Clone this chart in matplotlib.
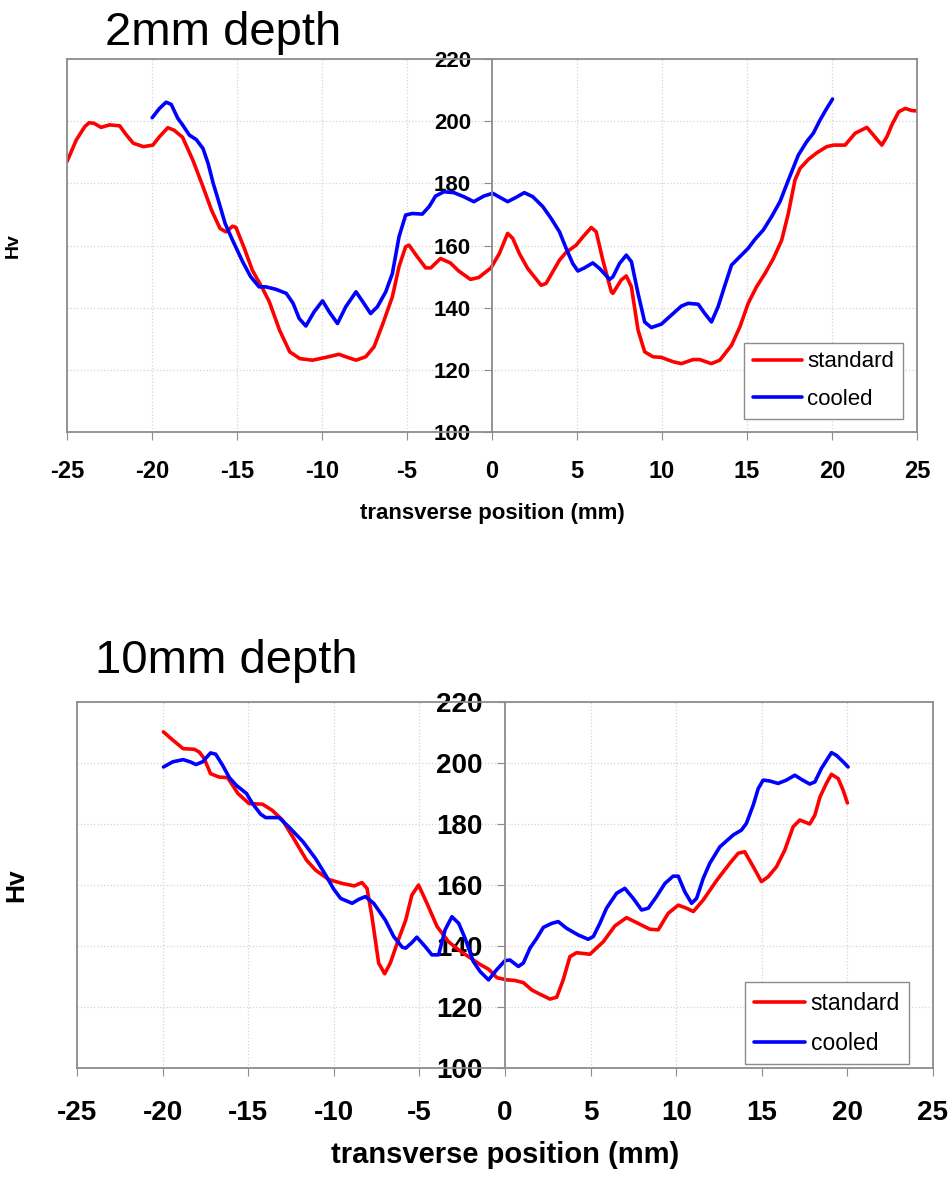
import matplotlib
matplotlib.use("Agg")
import matplotlib.pyplot as plt

plt.rcParams['font.family'] = ['Liberation Sans', 'DejaVu Sans']
plt.rcParams['axes.unicode_minus'] = False

# 2 mm depth profiles
pos_2mm_std = [-25, -24.45, -23.96, -23.7, -23.4, -23.0, -22.5, -21.9, -21.5, -21.1, -20.5,
               -19.95, -19.56, -19.07, -18.7, -18.2, -17.6, -17.0, -16.5, -16.0, -15.65,
               -15.26, -15.06, -14.57, -14.1, -13.5, -13.1, -12.5, -11.9, -11.3, -10.56,
               -9.78, -9.0, -8.6, -8.0, -7.43, -6.94, -6.45, -5.86, -5.47, -5.08, -4.88,
               -4.4, -3.9, -3.6, -3.03, -2.45, -1.96, -1.27, -0.78, -0.06, 0.43, 0.92,
               1.22, 1.61, 2.1, 2.89, 3.18, 3.97, 4.36, 4.95, 5.35, 5.84, 6.13, 6.52,
               7.02, 7.11, 7.6, 7.9, 8.2, 8.59, 8.98, 9.47, 9.96, 10.65, 11.14, 11.83,
               12.22, 12.9, 13.4, 14.09, 14.58, 15.07, 15.56, 16.06, 16.55, 17.04, 17.43,
               17.82, 18.12, 18.61, 19.1, 19.69, 20.1, 20.77, 21.36, 22.05, 22.44, 22.93,
               23.23, 23.52, 23.92, 24.31, 24.7, 25.0]
hv_2mm_std = [187, 194, 198.2, 199.5, 199.3, 198, 198.8, 198.5, 195.5, 192.9, 191.8,
              192.3, 195, 197.9, 197.1, 194.8, 187.5, 178.9, 171.4, 165.5, 164.4,
              166.2, 165.8, 159.1, 152.1, 146.2, 141.9, 132.8, 125.8, 123.6, 123.1,
              124, 125, 124.2, 123.1, 124.2, 127.4, 134.4, 143.5, 153.2, 159.6, 160.1,
              156.4, 152.8, 152.8, 155.8, 154.4, 151.8, 149.1, 149.7, 152.8, 157.4, 163.9,
              162.3, 157.4, 152.6, 147.2, 147.8, 155.3, 157.8, 160.1, 162.8, 165.8, 164.4, 155.3,
              145.1, 144.6, 148.9, 150.2, 146.7, 132.8, 125.8, 124.2, 124, 122.6, 122.0, 123.3,
              123.3, 122.0, 123.1, 127.9, 133.8, 141.4, 146.7, 151.0, 155.8, 161.7, 170.3,
              181.0, 184.8, 187.7, 189.8, 191.8, 192.3, 192.3, 196.1, 198, 195.5, 192.3,
              195, 198.8, 203, 204.1, 203.4, 203.3]

pos_2mm_cool = [-19.99, -19.56, -19.17, -18.87, -18.48, -18.2, -17.8, -17.4, -17.0, -16.7,
                -16.4, -16.1, -15.7, -15.26, -14.67, -14.2, -13.7, -13.3, -12.71, -12.1,
                -11.7, -11.34, -10.95, -10.46, -9.97, -9.58, -9.09, -8.6, -8.0, -7.6, -7.14,
                -6.74, -6.25, -5.86, -5.47, -5.08, -4.69, -4.1, -3.7, -3.32, -2.83, -2.24,
                -1.66, -1.07, -0.48, 0.04, 0.92, 1.42, 1.9, 2.4, 2.99, 3.48, 3.97, 4.36,
                4.75, 5.05, 5.44, 5.93, 6.33, 6.92, 7.11, 7.5, 7.9, 8.2, 8.59, 8.98, 9.37,
                9.96, 10.55, 11.14, 11.54, 12.13, 12.52, 12.91, 13.3, 13.7, 14.09, 14.58,
                15.07, 15.47, 15.96, 16.45, 16.94, 17.43, 18.02, 18.51, 18.9, 19.3, 19.69,
                20.03]
hv_2mm_cool = [201.1, 204.1, 206.1, 205.4, 200.9, 198.8, 195.5, 194.1, 191.2, 186.4,
               180.0, 174.6, 167.1, 161.7, 154.8, 150, 146.7, 146.7, 145.9, 144.6,
               141.4, 136.5, 134.1, 138.7, 142.2, 138.7, 134.9, 140.3, 145.1, 141.9, 138.1,
               140.3, 145.1, 151, 162.8, 169.8, 170.3, 170.1, 172.5, 175.9, 177.3, 177,
               175.7, 174.1, 175.9, 176.8, 174.1, 175.5, 177, 175.7, 172.5, 168.7, 164.4, 159.1,
               154.2, 151.8, 152.8, 154.4, 152.6, 149.1, 149.9, 154.2, 156.9, 154.8, 144.6, 135.4, 133.6,
               134.7, 137.6, 140.5, 141.4, 141.1, 138.1, 135.4, 140.3, 147.2, 153.7, 156.4,
               159.1, 162, 165, 169.3, 174.1, 181.0, 189.1, 193.4, 196.1, 200.4, 204.1,
               207.1]

# 10 mm depth profiles
pos_10mm_std = [-19.95, -19.4, -18.8, -18.15, -17.86, -17.57, -17.2, -16.7, -16.2, -15.6,
                -14.95, -14.17, -13.6, -13.0, -12.4, -11.6, -11.07, -10.3, -9.5, -8.8,
                -8.36, -8.06, -7.77, -7.38, -7.03, -6.7, -6.3, -5.8, -5.44, -5.05, -4.56,
                -3.97, -3.3, -2.7, -2.13, -1.5, -0.96, -0.47, 0.1, 0.58, 1.07, 1.56, 2.04,
                2.63, 3.02, 3.4, 3.79, 4.18, 4.96, 5.74, 6.42, 7.1, 7.78, 8.46, 8.95, 9.53,
                10.12, 10.6, 11.0, 11.58, 12.35, 13.13, 13.62, 14.0, 14.5, 14.98, 15.37,
                15.86, 16.34, 16.83, 17.22, 17.8, 18.1, 18.4, 18.77, 19.07, 19.46, 19.75,
                20.0]
hv_10mm_std = [210.2, 207.5, 204.7, 204.5, 203.6, 201.5, 196.5, 195.4, 195.2, 190,
               186.7, 186.5, 184.5, 181.3, 175.8, 168.2, 164.9, 161.8, 160.5, 159.7,
               160.8, 158.9, 149.6, 134.4, 130.9, 134.4, 140.9, 148.5, 156.7, 160, 154,
               146.4, 141.4, 138.7, 136.5, 134.1, 132.4, 129.6, 128.9, 128.7, 128.0, 125.6, 124.2,
               122.6, 123.2, 128.9, 136.5, 137.8, 137.3, 141.4, 146.6, 149.3, 147.4, 145.5, 145.3, 150.7,
               153.4, 152.4, 151.3, 155.1, 161.4, 167.1, 170.4, 170.9, 166.0, 161.1, 162.7,
               166, 171.4, 179.1, 181.3, 180, 182.9, 188.9, 193.3, 196.3, 194.9, 191.1,
               186.9]

pos_10mm_cool = [-19.95, -19.4, -18.8, -18.4, -18.05, -17.66, -17.2, -16.9, -16.5, -16.1,
                 -15.7, -15.1, -14.75, -14.27, -13.98, -13.2, -12.6, -11.8, -11.07, -10.48,
                 -10.0, -9.6, -8.93, -8.54, -8.15, -7.67, -6.99, -6.5, -6.0, -5.8, -5.44,
                 -5.15, -4.66, -4.27, -3.88, -3.5, -3.1, -2.7, -2.33, -1.85, -1.45, -0.96,
                 -0.49, 0.0, 0.29, 0.78, 1.07, 1.46, 1.85, 2.24, 2.72, 3.11, 3.6, 4.28, 4.86,
                 5.16, 5.54, 5.93, 6.52, 7.0, 7.49, 7.98, 8.37, 8.85, 9.34, 9.82, 10.12,
                 10.5, 10.9, 11.19, 11.58, 11.96, 12.55, 13.33, 13.81, 14.1, 14.5, 14.79,
                 15.08, 15.47, 15.95, 16.44, 16.93, 17.32, 17.8, 18.1, 18.48, 19.07, 19.36,
                 19.75, 20.04]
hv_10mm_cool = [198.7, 200.4, 201.1, 200.4, 199.5, 200.4, 203.3, 202.9, 199.3, 195.2,
                192.7, 190, 186.7, 183.2, 182.1, 182.1, 178.9, 174.2, 168.7, 163.3,
                158.6, 155.6, 154, 155.3, 156.2, 154, 148.5, 143.1, 139.6, 139.3, 141.1,
                142.9, 139.8, 137.1, 137.1, 145.3, 149.6, 147.4, 142.5, 134.9, 131.6, 128.9,
                132.2, 135.2, 135.4, 133.3, 134.4, 139.3, 142.5, 146.1, 147.4, 148.0, 145.8, 143.6, 142.2,
                143.1, 147.4, 152.4, 157.3, 158.9, 155.6, 151.8, 152.4, 156.2, 160.5, 162.9, 162.9,
                157.8, 154, 155.6, 162.2, 167.1, 172.5, 176.4, 178, 180.2, 186.2, 191.6,
                194.4, 194.1, 193.3, 194.4, 196, 194.6, 193.1, 193.8, 198.2, 203.4, 202.5,
                200.4, 198.7]

x_ticks = list(range(-25, 30, 5))
y_ticks = list(range(100, 240, 20))

FRAME = '#8c8c8c'
GRID = '#d4d4d4'


def draw_panel(ax, x_std, y_std, x_cool, y_cool, big):
    ax.plot(x_std, y_std, color='#ff0000', lw=2.6, label='standard',
            solid_capstyle='round', solid_joinstyle='round')
    ax.plot(x_cool, y_cool, color='#0000ff', lw=2.6, label='cooled',
            solid_capstyle='round', solid_joinstyle='round')

    ax.set_xlim(-25, 25)
    ax.set_ylim(100, 220)
    ax.set_xticks(x_ticks)
    ax.set_yticks(y_ticks)
    ax.grid(True, color=GRID, linestyle=':', linewidth=0.9)

    # y axis sits on x = 0, outer box drawn separately
    ax.spines['left'].set_position(('data', 0))
    for side in ['left', 'right', 'top', 'bottom']:
        ax.spines[side].set_color(FRAME)
        ax.spines[side].set_linewidth(1.3)
    ax.axvline(-25, color=FRAME, lw=1.3, clip_on=False, zorder=3)

    fs_x = 20 if big else 17
    fs_y = 20 if big else 16
    ax.tick_params(axis='x', direction='out', length=6, color=FRAME,
                   pad=17 if big else 14, labelsize=fs_x)
    ax.tick_params(axis='y', direction='out', length=6, color=FRAME,
                   pad=10 if big else 9, labelsize=fs_y)
    for lab in ax.get_xticklabels() + ax.get_yticklabels():
        lab.set_fontweight('bold')

    ax.set_xlabel('transverse position (mm)', fontsize=21 if big else 16, fontweight='bold')
    ax.set_ylabel('Hv', fontsize=19 if big else 14, fontweight='bold')


fig = plt.figure(figsize=(9.52, 11.82), dpi=100)

ax1 = fig.add_axes([67 / 952, 1 - 432 / 1182, 850 / 952, 373 / 1182])
draw_panel(ax1, pos_2mm_std, hv_2mm_std, pos_2mm_cool, hv_2mm_cool, big=False)
ax1.xaxis.set_label_coords(0.5, -0.19)
ax1.yaxis.set_label_coords(-0.053, 0.5)
ax1.legend(loc='lower right', bbox_to_anchor=(0.9835, 0.035), borderaxespad=0,
           fontsize=16, fancybox=False, edgecolor=FRAME, framealpha=1,
           handlelength=2.2, labelspacing=0.75, borderpad=0.4, handletextpad=0.25)

ax2 = fig.add_axes([77 / 952, 1 - 1068 / 1182, 856 / 952, 366 / 1182])
draw_panel(ax2, pos_10mm_std, hv_10mm_std, pos_10mm_cool, hv_10mm_cool, big=True)
ax2.xaxis.set_label_coords(0.5, -0.2)
ax2.yaxis.set_label_coords(-0.057, 0.5)
ax2.legend(loc='lower right', bbox_to_anchor=(0.972, 0.011), borderaxespad=0,
           fontsize=16.5, fancybox=False, edgecolor=FRAME, framealpha=1,
           handlelength=2.2, labelspacing=0.75, borderpad=0.4, handletextpad=0.25)

fig.text(105 / 952, 1 - 45 / 1182, '2mm depth', fontsize=34, va='baseline', ha='left')
fig.text(95 / 952, 1 - 673 / 1182, '10mm depth', fontsize=34, va='baseline', ha='left')

fig.savefig('out.png', dpi=100, facecolor='white')
